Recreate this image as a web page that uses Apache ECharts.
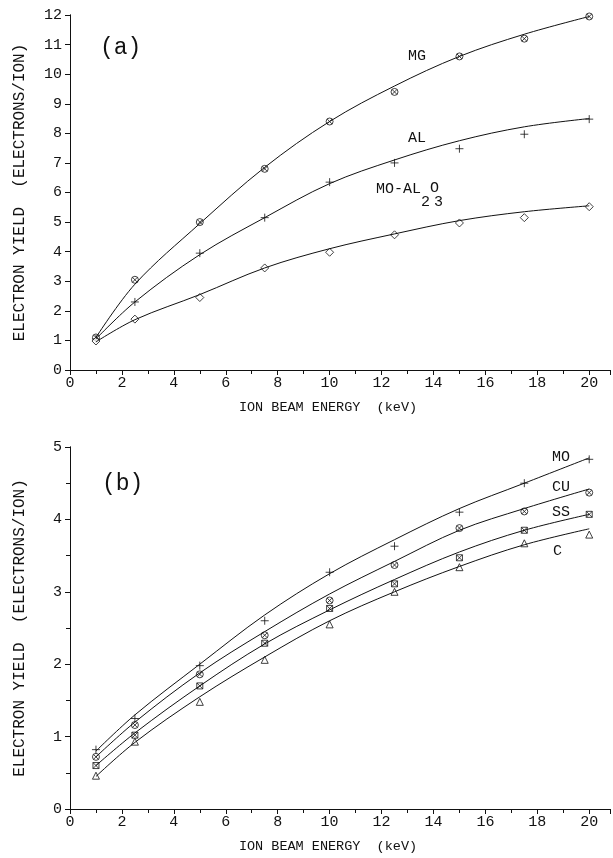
<!DOCTYPE html>
<html>
<head>
<meta charset="utf-8">
<script src="https://cdn.jsdelivr.net/npm/echarts@6/dist/echarts.min.js"></script>
<style>
  html, body { margin: 0; padding: 0; background: #fff; }
  #chart { width: 613px; height: 858px; }
</style>
</head>
<body>
<div id="chart"></div>
<script>
// beam energies (keV) shared by every series
const energy = [1, 2.5, 5, 7.5, 10, 12.5, 15, 17.5, 20];

// panel (a) measured points
const mgYield = [1.1, 3.05, 5.0, 6.8, 8.4, 9.4, 10.6, 11.2, 11.95];
const alYield = [1.05, 2.3, 3.95, 5.15, 6.35, 7.0, 7.48, 7.97, 8.48];
const moAlYield = [0.98, 1.72, 2.45, 3.45, 3.98, 4.57, 4.97, 5.15, 5.52];
// panel (a) fitted curves
const mgFit = [1.1, 2.9, 4.95, 6.85, 8.4, 9.6, 10.6, 11.35, 11.95];
const alFit = [1.05, 2.3, 3.9, 5.15, 6.3, 7.1, 7.75, 8.22, 8.5];
const moAlFit = [0.95, 1.7, 2.55, 3.45, 4.1, 4.6, 5.05, 5.35, 5.55];

// panel (b) measured points
const moYield = [0.82, 1.25, 1.98, 2.6, 3.27, 3.63, 4.1, 4.5, 4.83];
const cuYield = [0.72, 1.16, 1.86, 2.4, 2.88, 3.37, 3.88, 4.11, 4.37];
const ssYield = [0.6, 1.02, 1.7, 2.29, 2.77, 3.11, 3.47, 3.85, 4.07];
const cYield = [0.46, 0.93, 1.48, 2.06, 2.55, 3.0, 3.34, 3.67, 3.79];
// panel (b) fitted curves
const moFit = [0.8, 1.3, 2.0, 2.68, 3.25, 3.72, 4.15, 4.5, 4.85];
const cuFit = [0.72, 1.2, 1.88, 2.45, 2.97, 3.42, 3.85, 4.15, 4.42];
const ssFit = [0.6, 1.05, 1.7, 2.28, 2.75, 3.17, 3.55, 3.85, 4.07];
const cFit = [0.45, 0.92, 1.55, 2.1, 2.6, 3.0, 3.35, 3.65, 3.87];

const xTicks = [0, 2, 4, 6, 8, 10, 12, 14, 16, 18, 20];
const topYTicks = [0, 1, 2, 3, 4, 5, 6, 7, 8, 9, 10, 11, 12];
const bottomYTicks = [0, 1, 2, 3, 4, 5];

const FONT = 'Liberation Mono';
const INK = '#111';

const markers = {
  circleX: 'path://M10,5A5,5,0,1,1,0,5A5,5,0,1,1,10,5Z M1.5,1.5L8.5,8.5 M8.5,1.5L1.5,8.5',
  squareX: 'path://M0,0L10,0L10,10L0,10Z M0,0L10,10 M10,0L0,10',
  plus: 'path://M0,5L10,5 M5,0L5,10',
  diamond: 'diamond',
  triangle: 'triangle'
};

const pair = (ys) => energy.map((x, i) => [x, ys[i]]);

function fitLine(ys, gi) {
  return {
    type: 'line', xAxisIndex: gi * 2, yAxisIndex: gi * 2,
    data: pair(ys), smooth: 0.35, showSymbol: false, silent: true,
    lineStyle: { color: INK, width: 1 }
  };
}
function points(ys, gi, symbol, size) {
  return {
    type: 'scatter', xAxisIndex: gi * 2, yAxisIndex: gi * 2,
    data: pair(ys), symbol: symbol, symbolSize: size || 7,
    itemStyle: { color: '#fff', borderColor: INK, borderWidth: 1 }
  };
}

const chart = echarts.init(document.getElementById('chart'));

function xAxes(gi) {
  return [
    {
      type: 'value', gridIndex: gi, min: 0, max: 20.8, interval: 1,
      name: 'ION BEAM ENERGY  (keV)', nameLocation: 'middle', nameGap: 30,
      nameTextStyle: { fontFamily: FONT, fontSize: 13.5, color: INK, padding: [0, 24, 0, 0] },
      axisLine: { lineStyle: { color: INK, width: 1 } },
      axisTick: { length: 4, lineStyle: { color: INK } },
      axisLabel: {
        fontFamily: FONT, fontSize: 15, color: INK, margin: 6,
        formatter: v => xTicks.includes(v) ? String(v) : ''
      },
      splitLine: { show: false }
    },
    {
      type: 'value', gridIndex: gi, position: 'top', min: 0, max: 20.8, interval: 2,
      axisLine: { show: true, lineStyle: { color: INK, width: 1 } },
      axisTick: { inside: true, length: 5, lineStyle: { color: INK } },
      axisLabel: { show: false }, splitLine: { show: false }
    }
  ];
}
function yAxes(gi, max, step, ticks) {
  return [
    {
      type: 'value', gridIndex: gi, min: 0, max: max, interval: step,
      name: 'ELECTRON YIELD  (ELECTRONS/ION)', nameLocation: 'middle', nameGap: 42, nameRotate: 90,
      nameTextStyle: { fontFamily: FONT, fontSize: 16, color: INK },
      axisLine: { lineStyle: { color: INK, width: 1 } },
      axisTick: { length: 4, lineStyle: { color: INK } },
      axisLabel: {
        fontFamily: FONT, fontSize: 15, color: INK, margin: 8,
        formatter: v => ticks.includes(v) ? String(v) : ''
      },
      splitLine: { show: false }
    },
    {
      type: 'value', gridIndex: gi, position: 'right', min: 0, max: max, interval: 1,
      axisLine: { show: true, lineStyle: { color: INK, width: 1 } },
      axisTick: { inside: true, length: 5, lineStyle: { color: INK } },
      axisLabel: { show: false }, splitLine: { show: false }
    }
  ];
}

function txt(x, y, s, size) {
  return {
    type: 'text', left: x, top: y,
    style: { text: s, fontFamily: FONT, fontSize: size || 15, fill: INK }
  };
}

chart.setOption({
  animation: false,
  backgroundColor: '#fff',
  grid: [
    { left: 70, top: 15, width: 542, height: 355 },
    { left: 70, top: 447, width: 542, height: 362 }
  ],
  xAxis: [...xAxes(0), ...xAxes(1)],
  yAxis: [...yAxes(0, 12, 1, topYTicks), ...yAxes(1, 5, 0.5, bottomYTicks)],
  series: [
    fitLine(mgFit, 0), fitLine(alFit, 0), fitLine(moAlFit, 0),
    points(mgYield, 0, markers.circleX), points(alYield, 0, markers.plus, 8),
    points(moAlYield, 0, markers.diamond, 8),
    fitLine(moFit, 1), fitLine(cuFit, 1), fitLine(ssFit, 1), fitLine(cFit, 1),
    points(moYield, 1, markers.plus, 8), points(cuYield, 1, markers.circleX),
    points(ssYield, 1, markers.squareX, 6), points(cYield, 1, markers.triangle, 7)
  ],
  graphic: [
    txt(100, 36, '(a)', 23),
    txt(408, 49, 'MG'),
    txt(408, 131, 'AL'),
    txt(376, 182, 'MO-AL'),
    txt(421, 195, '2'),
    txt(430, 181, 'O'),
    txt(434, 195, '3'),
    txt(102, 472, '(b)', 23),
    txt(552, 450, 'MO'),
    txt(552, 480, 'CU'),
    txt(552, 505, 'SS'),
    txt(553, 544, 'C')
  ]
});
</script>
</body>
</html>
